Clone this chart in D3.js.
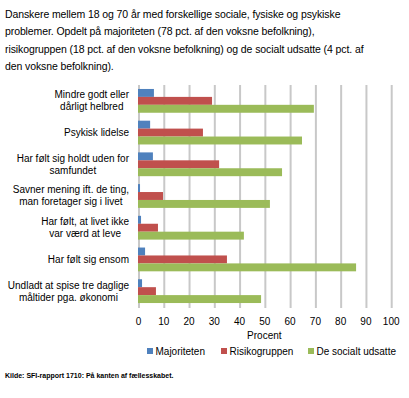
<!DOCTYPE html>
<html>
<head>
<meta charset="utf-8">
<script src="https://cdn.jsdelivr.net/npm/d3@7"></script>
<style>
    body { margin: 0; background: #fff; }
    text { font-family: "Liberation Sans", Arial, sans-serif; fill: #000; }
</style>
</head>
<body>
<script>
// data
var categories = [
    ['Mindre godt eller', 'dårligt helbred'],
    ['Psykisk lidelse'],
    ['Har følt sig holdt uden for', 'samfundet'],
    ['Savner mening ift. de ting,', 'man foretager sig i livet'],
    ['Har følt, at livet ikke', 'var værd at leve'],
    ['Har følt sig ensom'],
    ['Undladt at spise tre daglige', 'måltider pga. økonomi']
];
var seriesNames = ['Majoriteten', 'Risikogruppen', 'De socialt udsatte'];
var majoriteten = [6.3, 4.8, 5.9, 0.8, 1.2, 2.8, 1.6];
var risikogruppen = [29.3, 25.7, 32.1, 9.9, 7.9, 35.2, 7.1];
var socialtUdsatte = [69.6, 64.9, 57.0, 52.2, 41.9, 86.3, 48.7];
var xTicks = [0, 10, 20, 30, 40, 50, 60, 70, 80, 90, 100];
var titleLines = [
    'Danskere mellem 18 og 70 år med forskellige sociale, fysiske og psykiske',
    'problemer. Opdelt på majoriteten (78 pct. af den voksne befolkning),',
    'risikogruppen (18 pct. af den voksne befolkning) og de socialt udsatte (4 pct. af',
    'den voksne befolkning).'
];
var sourceText = 'Kilde: SFI-rapport 1710: På kanten af fællesskabet.';

var colors = ['#4F81BD', '#C0504D', '#9BBB59'];
var gridColor = '#c8c8c8';

var W = 409, H = 398;
var margin = {top: 85, left: 138, right: 18.3, bottom: 91};
var width = W - margin.left - margin.right;
var height = H - margin.top - margin.bottom;

var dataset = categories.map(function (c, i) {
    return {
        key: i,
        label: c,
        values: [majoriteten[i], risikogruppen[i], socialtUdsatte[i]]
    };
});

var svgContainer = d3.select('body')
    .append('svg')
    .attr('width', W)
    .attr('height', H);

// title
svgContainer.append('g')
    .selectAll('text')
    .data(titleLines)
    .enter().append('text')
    .attr('x', 5)
    .attr('y', function (d, i) { return 17.5 + i * 17.5; })
    .style('font-size', '10.5px')
    .style('letter-spacing', '-0.1px')
    .text(function (d) { return d; });

var svg = svgContainer.append('g')
    .attr('transform', 'translate(' + margin.left + ',' + margin.top + ')');

//scales
var xScale = d3.scaleLinear().domain([0, 100]).range([0, width]);
var yScale = d3.scaleBand()
    .domain(d3.range(dataset.length))
    .range([0, height])
    .paddingInner(0.25)
    .paddingOuter(0.125);
var innerScale = d3.scaleBand()
    .domain(d3.range(seriesNames.length))
    .range([0, yScale.bandwidth()]);

//gridlines (extend a bit below the plot, like ticks)
svg.append('g')
    .selectAll('line')
    .data(xTicks)
    .enter().append('line')
    .attr('x1', function (d) { return xScale(d) + 1; })
    .attr('x2', function (d) { return xScale(d) + 1; })
    .attr('y1', 0)
    .attr('y2', height + 1)
    .attr('stroke', gridColor)
    .attr('stroke-width', 2);

//x-axis labels
var xAxis = d3.axisBottom(xScale).tickValues(xTicks).tickSize(0).tickPadding(0);
var xAxisElem = svg.append('g')
    .attr('transform', 'translate(0,' + (height + 11) + ')')
    .call(xAxis);
xAxisElem.select('.domain').remove();
xAxisElem.selectAll('text')
    .attr('dy', '0.71em')
    .style('font-size', '10px')
    .style('font-family', '"Liberation Sans", Arial, sans-serif')
    .attr('fill', '#000');

svg.append('text')
    .attr('x', width / 2)
    .attr('y', height + 32)
    .attr('text-anchor', 'middle')
    .style('font-size', '10px')
    .text('Procent');

//bars
var groups = svg.selectAll('.group')
    .data(dataset)
    .enter().append('g')
    .attr('class', 'group')
    .attr('transform', function (d) { return 'translate(0,' + yScale(d.key) + ')'; });

groups.selectAll('rect')
    .data(function (d) { return d.values; })
    .enter().append('rect')
    .attr('x', 0)
    .attr('y', function (d, i) { return innerScale(i); })
    .attr('width', function (d) { return xScale(d); })
    .attr('height', innerScale.bandwidth())
    .attr('fill', function (d, i) { return colors[i]; });

//category labels, centred lines, block right aligned
var labelRight = -9;
var lineH = 12;
groups.each(function (d) {
    var g = d3.select(this);
    var cy = yScale.bandwidth() / 2;
    var txt = g.append('text')
        .attr('text-anchor', 'middle')
        .style('font-size', '10px');
    var spans = txt.selectAll('tspan')
        .data(d.label)
        .enter().append('tspan')
        .text(function (t) { return t; });
    var maxW = 0;
    spans.each(function () { maxW = Math.max(maxW, this.getComputedTextLength()); });
    var cx = labelRight - maxW / 2;
    var n = d.label.length;
    spans.attr('x', cx)
        .attr('y', function (t, i) { return cy + (i - (n - 1) / 2) * lineH + 3.5; });
});

//legend
var legendX = [147, 221, 308];
var legend = svgContainer.append('g')
    .attr('transform', 'translate(0,351)');
var item = legend.selectAll('g')
    .data(seriesNames)
    .enter().append('g')
    .attr('transform', function (d, i) { return 'translate(' + legendX[i] + ',0)'; });
item.append('rect')
    .attr('x', 0)
    .attr('y', -3)
    .attr('width', 6)
    .attr('height', 6)
    .attr('fill', function (d, i) { return colors[i]; });
item.append('text')
    .attr('x', 8.5)
    .attr('y', 3.5)
    .style('font-size', '10px')
    .text(function (d) { return d; });

//source
svgContainer.append('text')
    .attr('x', 5)
    .attr('y', 378)
    .style('font-size', '7px')
    .style('font-weight', 'bold')
    .text(sourceText);
</script>
</body>
</html>
